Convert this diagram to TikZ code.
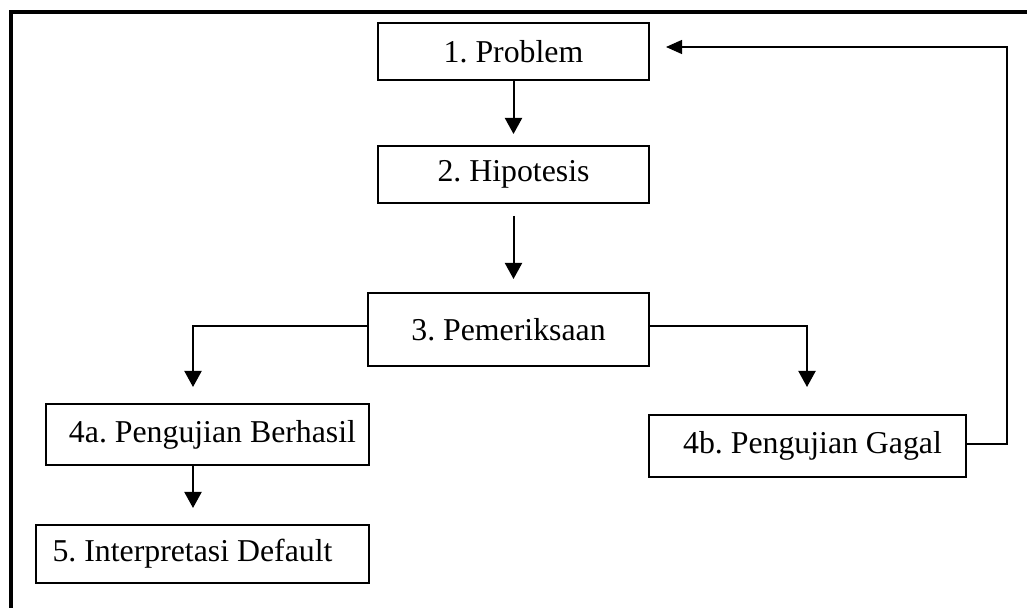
\documentclass[tikz,border=0pt]{standalone}
\usepackage{fontspec}
\setmainfont{Liberation Serif}
\usepackage{tikz}
\usetikzlibrary{arrows.meta,positioning,calc}
\frenchspacing

\begin{document}
\begin{tikzpicture}[
    x=0.5pt, y=-0.5pt,
    font=\fontsize{15.9}{19}\selectfont,
    box/.style={draw=black, line width=1pt, fill=white, inner sep=0pt,
                align=center},
    flow/.style={-{Triangle[length=8pt, width=8.5pt]}, line width=1pt},
    fb/.style={-{Triangle[length=8pt, width=7pt]}, line width=0.6pt},
    frame/.style={line width=2pt},
  ]
  \useasboundingbox (0,0) rectangle (1027,608);

  % outer frame (only top and left are visible)
  \draw[frame] (1030,12) -- (11,12) -- (11,612);

  \node[box, minimum width=135.5pt, minimum height=28.5pt] (prob) at (513.5,51.5) {1. Problem};
  \node[box, minimum width=135.5pt, minimum height=28.5pt] (hipo) at (513.5,174.5) {2. Hipotesis};
  \node[box, minimum width=140.5pt, minimum height=36.5pt] (periksa) at (508.5,329.5) {3. Pemeriksaan};
  \node[box, minimum width=161.5pt, minimum height=30.5pt] (berhasil) at (207.5,434.5) {\hspace{5pt}4a. Pengujian Berhasil};
  \node[box, minimum width=158.5pt, minimum height=31pt] (gagal) at (807.5,446) {\hspace{5pt}4b. Pengujian Gagal};
  \node[box, minimum width=166.5pt, minimum height=29pt] (interp) at (202.5,554) {5. Interpretasi Default\hspace{10pt}};

  \coordinate (ka) at (193,387);
  \coordinate (kb) at (807,387);
  \coordinate (kc) at (193,508);
  \coordinate (back) at (1007,47);

  % main flow
  \draw[flow, shorten >=5.5pt] (prob) -- (hipo);
  \draw[flow, shorten <=6pt, shorten >=6.5pt] (hipo.south) -- (hipo.south |- periksa.north);
  \draw[flow] ([yshift=1.75pt]periksa.west) -| (ka);
  \draw[flow] ([yshift=1.75pt]periksa.east) -| (kb);
  \draw[flow] (berhasil.south -| kc) -- (kc);

  % back to the problem when the test fails
  \draw[fb, shorten >=8pt] ([yshift=1pt]gagal.east) -| (back) -- (prob.east |- back);
\end{tikzpicture}
\end{document}
